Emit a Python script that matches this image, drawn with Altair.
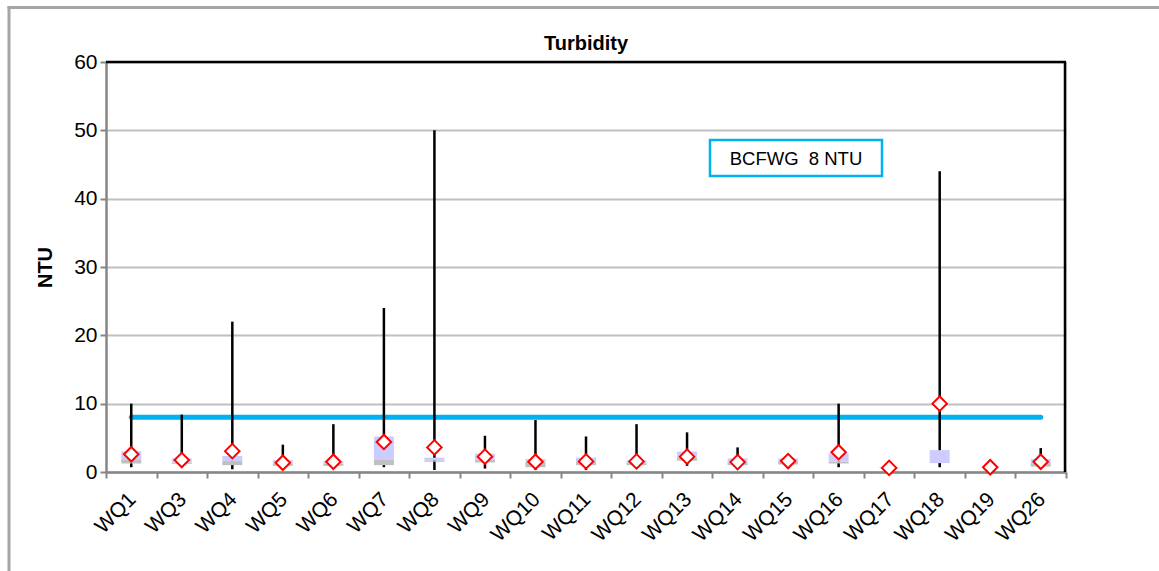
import altair as alt
import pandas as pd

# Turbidity summary per monitoring station (NTU)
stations = ["WQ1", "WQ3", "WQ4", "WQ5", "WQ6", "WQ7", "WQ8", "WQ9", "WQ10", "WQ11",
            "WQ12", "WQ13", "WQ14", "WQ15", "WQ16", "WQ17", "WQ18", "WQ19", "WQ26"]
ntu_max = [10, 8.4, 22, 4, 7, 24, 50, 5.3, 7.6, 5.2, 7, 5.8, 3.6, 2.0, 10, 0.7, 44, 0.8, 3.5]
ntu_min = [0.7, 1.0, 0.4, 0.3, 0.8, 0.7, 0.3, 0.5, 0.3, 0.3, 0.9, 0.9, 0.4, 1.1, 0.7, 0.5, 0.7, 0.6, 0.8]
ntu_q1 = [1.25, 1.2, 1.0, 0.9, 0.9, 1.0, 1.5, 1.4, 0.7, 1.0, 1.0, 1.65, 1.0, 1.1, 1.25, 0.6, 1.3, 0.7, 0.8]
ntu_median = [1.85, 1.4, 1.6, 1.2, 1.2, 1.75, 1.7, 1.8, 1.5, 1.5, 1.3, 2.1, 1.4, 1.5, 1.5, 0.6, 1.3, 0.7, 1.3]
ntu_q3 = [3.05, 2.0, 2.35, 1.75, 1.6, 5.2, 2.1, 2.7, 1.9, 2.1, 1.7, 3.0, 2.0, 2.0, 2.7, 0.7, 3.2, 0.75, 1.9]
ntu_mean = [2.6, 1.75, 3.05, 1.35, 1.5, 4.4, 3.6, 2.25, 1.5, 1.55, 1.55, 2.25, 1.45, 1.6, 2.9, 0.6, 10, 0.7, 1.5]

guideline_value = 8
guideline_label = "BCFWG\u00a0 8 NTU"
chart_title = "Turbidity"

FONT = "Liberation Sans"
AXIS_GRAY = "#868686"
GUIDE_BLUE = "#00b0f0"

df = pd.DataFrame({
    "station": stations,
    "max": ntu_max,
    "min": ntu_min,
    "q1": ntu_q1,
    "median": ntu_median,
    "q3": ntu_q3,
    "mean": ntu_mean,
})
guide_df = pd.DataFrame({"station": stations, "limit": [guideline_value] * len(stations)})

x_enc = alt.X(
    "station:N",
    sort=stations,
    title=None,
    scale=alt.Scale(type="band", paddingInner=0, paddingOuter=0),
    axis=alt.Axis(
        labelAngle=315, labelAlign="right", labelBaseline="middle",
        labelPadding=18, labelOffset=1, labelFontSize=21, labelFont=FONT,
        labelColor="#000000",
        tickBand="extent", tickSize=6, tickWidth=2, tickColor=AXIS_GRAY,
        domainColor=AXIS_GRAY, domainWidth=2.5, grid=False,
    ),
)

y_scale = alt.Scale(domain=[0, 60], nice=False, zero=True)
y_axis = alt.Axis(
    values=[0, 10, 20, 30, 40, 50, 60],
    title="NTU", titleFont=FONT, titleFontSize=20, titleFontWeight="bold",
    titleColor="#000000", titleAngle=270, titleX=-55, titleY=205,
    titleAlign="center", titleBaseline="alphabetic",
    labelFontSize=21, labelFont=FONT, labelColor="#000000", labelPadding=3,
    tickSize=6, tickWidth=2, tickColor=AXIS_GRAY,
    domainColor=AXIS_GRAY, domainWidth=2.5,
    grid=True, gridColor="#bfbfbf", gridWidth=2,
)


def y_field(name):
    return alt.Y(f"{name}:Q", scale=y_scale, axis=y_axis)


base = alt.Chart(df)

guide_line = alt.Chart(guide_df).mark_line(
    color=GUIDE_BLUE, strokeWidth=5, strokeCap="round"
).encode(x=x_enc, y=alt.Y("limit:Q", scale=y_scale, axis=y_axis))

whiskers = base.mark_rule(color="#000000", strokeWidth=2.5).encode(
    x=x_enc, y=y_field("min"), y2="max:Q"
)

lower_box = base.mark_bar(color="#c0c0c0", size=20).encode(
    x=x_enc, y=y_field("q1"), y2="median:Q"
)
upper_box = base.mark_bar(color="#ccccff", size=20).encode(
    x=x_enc, y=y_field("median"), y2="q3:Q"
)

means = base.mark_point(
    shape="diamond", size=210, filled=True, fill="#ffffff",
    stroke="#ff0000", strokeWidth=2, opacity=1,
).encode(x=x_enc, y=y_field("mean"))

# Guideline legend box
legend_df = pd.DataFrame({"label": [guideline_label]})
legend_box = alt.Chart(legend_df).mark_rect(
    fill="#ffffff", stroke=GUIDE_BLUE, strokeWidth=2.5
).encode(x=alt.value(604), x2=alt.value(776), y=alt.value(78), y2=alt.value(114))
legend_text = alt.Chart(legend_df).mark_text(
    font=FONT, fontSize=18.5, color="#000000", align="center", baseline="middle"
).encode(text="label:N", x=alt.value(690), y=alt.value(97))

# Chart title above the plot area
title_df = pd.DataFrame({"title": [chart_title]})
title_text = alt.Chart(title_df).mark_text(
    font=FONT, fontSize=20, fontWeight="bold", color="#000000",
    align="center", baseline="alphabetic",
).encode(text="title:N", x=alt.value(480), y=alt.value(-12))

# Plot frame: black top and right edges
frame_top = alt.Chart(legend_df).mark_rule(color="#000000", strokeWidth=2.5).encode(
    x=alt.value(0), x2=alt.value(960), y=alt.value(0)
)
frame_right = alt.Chart(legend_df).mark_rule(color="#000000", strokeWidth=2.5).encode(
    x=alt.value(959), y=alt.value(0), y2=alt.value(410)
)

# Outer chart border (left and top edges)
outer_left = alt.Chart(legend_df).mark_rule(color="#a6a6a6", strokeWidth=3).encode(
    x=alt.value(-97), y=alt.value(-56), y2=alt.value(530)
)
outer_top = alt.Chart(legend_df).mark_rule(color="#a6a6a6", strokeWidth=3).encode(
    x=alt.value(-98.5), x2=alt.value(1100), y=alt.value(-54.5)
)

chart = alt.layer(
    guide_line, whiskers, lower_box, upper_box, means,
    legend_box, legend_text, title_text,
    frame_top, frame_right, outer_left, outer_top,
).properties(
    width=960,
    height=410,
    autosize=alt.AutoSizeParams(type="none"),
    padding={"left": 106, "top": 62, "right": 93, "bottom": 99},
).configure_view(stroke=None).configure(background="#ffffff")

chart.save("out.html", embed_options={"renderer": "svg", "actions": False})
